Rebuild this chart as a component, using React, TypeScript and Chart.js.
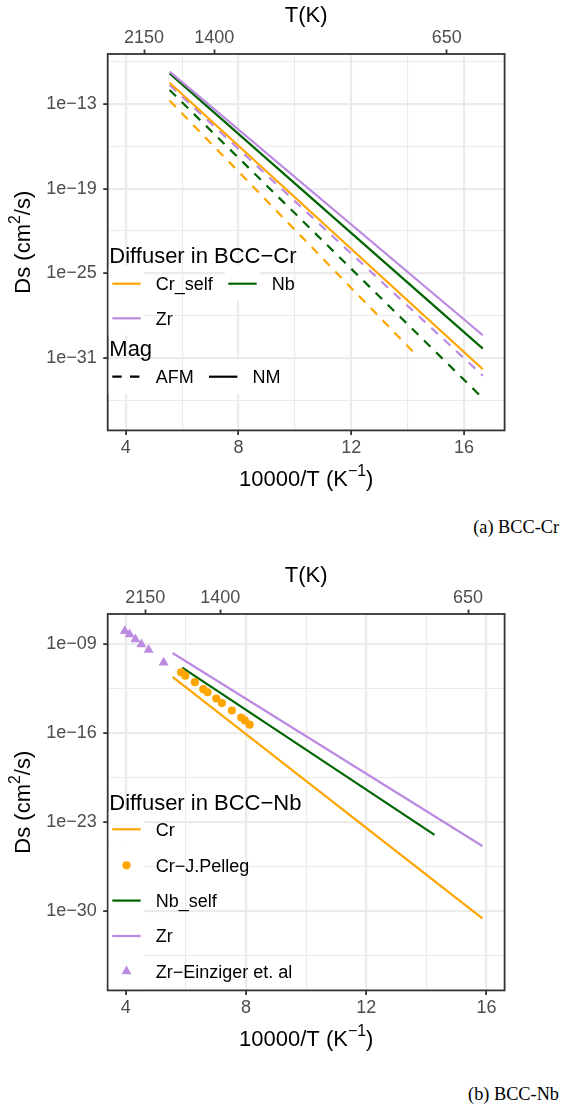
import React, { useEffect, useRef } from 'react';
import { Chart, registerables } from 'chart.js';

Chart.register(...registerables);

const FONT = "'Liberation Sans', Arial, Helvetica, sans-serif";
const SERIF = "'Liberation Serif', 'Times New Roman', serif";
const ORANGE = '#FFA500';
const GREEN = '#006400';
const PURPLE = '#BC8AE0';
const DASH = [9, 8];

// ---------- (a) BCC-Cr : x = 10000/T, y = Ds (cm^2/s)
const aInvT = [5.556, 16.667];
const aInvTShort = [5.556, 14.286];
const aCrSelfNM = [3.2e-12, 1.58e-32];
const aNbNM = [1.48e-11, 4.6e-31];
const aZrNM = [1.95e-11, 4.1e-30];
const aCrSelfAFM = [1.74e-13, 1.8e-31];
const aNbAFM = [9.8e-13, 1.4e-34];
const aZrAFM = [2.24e-12, 5.6e-33];

// ---------- (b) BCC-Nb
const bCrInvT = [5.556, 15.86];
const bCr = [2.57e-12, 2.4e-31];
const bNbSelfInvT = [5.88, 14.27];
const bNbSelf = [1.38e-11, 9.1e-25];
const bZrInvT = [5.556, 15.86];
const bZr = [1.95e-10, 1.23e-25];
const pellegInvT = [5.84, 5.98, 6.3, 6.58, 6.72, 7.01, 7.2, 7.53, 7.84, 7.96, 8.12];
const pellegD = [5.9e-12, 3.2e-12, 9.8e-13, 2.75e-13, 1.58e-13, 5.1e-14, 2.2e-14, 5.75e-15, 1.62e-15, 9.5e-16, 4.4e-16];
const einzigerInvT = [3.97, 4.13, 4.32, 4.52, 4.76, 5.26];
const einzigerD = [1.05e-8, 5.75e-9, 2.34e-9, 9.3e-10, 3.4e-10, 3.4e-11];

// ---------- ticks
const xMajorTicks = [4, 8, 12, 16];
const xMinorTicks = [6, 10, 14];
const topTickTemps = [2150, 1400, 650];
const aYMajor = [1e-31, 1e-25, 1e-19, 1e-13];
const aYMinor = [1e-34, 1e-28, 1e-22, 1e-16, 1e-10];
const bYMajor = [1e-30, 1e-23, 1e-16, 1e-9];
const bYMinor = [3.1623e-34, 3.1623e-27, 3.1623e-20, 3.1623e-13];

const W = 562;
const H = 500;
const AREA = { left: 107.7, right: 504.6, top: 54, bottom: 430.4 };

const TICK_SIZE = 18;
const TITLE_SIZE = 22;
const TRI_R = 5.8;
const DOT_R = 4.1;

function logNear(arr: number[], v: number) {
  return arr.some((a) => Math.abs(Math.log10(a) - Math.log10(v)) < 1e-3);
}
function yLabel(v: number) {
  const e = Math.round(Math.log10(v));
  return '1e' + (e < 0 ? '\u2212' : '+') + String(Math.abs(e)).padStart(2, '0');
}

function lineDs(xs: number[], ys: number[], color: string, dash: number[]) {
  return {
    type: 'line',
    data: xs.map((x, i) => ({ x, y: ys[i] })),
    borderColor: color,
    backgroundColor: color,
    borderWidth: 2.2,
    borderDash: dash,
    borderCapStyle: 'butt',
    pointRadius: 0,
    pointHoverRadius: 0,
    fill: false,
    tension: 0,
  };
}
function pointDs(xs: number[], ys: number[], color: string, style: string, r: number) {
  return {
    type: 'line',
    showLine: false,
    data: xs.map((x, i) => ({ x, y: ys[i] })),
    borderColor: color,
    backgroundColor: color,
    pointStyle: style,
    pointRadius: r,
    pointHoverRadius: r,
    pointBorderWidth: 0,
  };
}

type Seg = { t: string; sup?: boolean };
function drawRich(ctx: CanvasRenderingContext2D, segs: Seg[], cx: number, cy: number, size: number, rot: number) {
  ctx.save();
  ctx.translate(cx, cy);
  ctx.rotate(rot);
  const supSize = size * 0.72;
  const widths = segs.map((s) => {
    ctx.font = `${s.sup ? supSize : size}px ${FONT}`;
    return ctx.measureText(s.t).width;
  });
  const total = widths.reduce((a, b) => a + b, 0);
  let x = -total / 2;
  const base = size * 0.358;
  ctx.fillStyle = '#000';
  ctx.textAlign = 'left';
  ctx.textBaseline = 'alphabetic';
  segs.forEach((s, i) => {
    ctx.font = `${s.sup ? supSize : size}px ${FONT}`;
    ctx.fillText(s.t, x, s.sup ? base - size * 0.45 : base);
    x += widths[i];
  });
  ctx.restore();
}

type LegendItem = { kind: 'line' | 'circle' | 'triangle'; color: string; dash?: number[]; x: number; y: number; label: string };
type LegendSpec = { titles: { text: string; x: number; y: number }[]; items: LegendItem[]; keyH: number };

function drawLegend(ctx: CanvasRenderingContext2D, lg: LegendSpec) {
  ctx.save();
  ctx.fillStyle = '#ffffff';
  lg.items.forEach((it) => ctx.fillRect(it.x - 17.75, it.y - lg.keyH / 2, 35.5, lg.keyH));
  lg.items.forEach((it) => {
    if (it.kind === 'line') {
      ctx.strokeStyle = it.color;
      ctx.lineWidth = 2.2;
      ctx.lineCap = 'butt';
      ctx.setLineDash(it.dash || []);
      ctx.beginPath();
      ctx.moveTo(it.x - 14.2, it.y);
      ctx.lineTo(it.x + 14.2, it.y);
      ctx.stroke();
      ctx.setLineDash([]);
    } else if (it.kind === 'circle') {
      ctx.fillStyle = it.color;
      ctx.beginPath();
      ctx.arc(it.x, it.y, DOT_R, 0, Math.PI * 2);
      ctx.fill();
    } else {
      const r = TRI_R;
      ctx.fillStyle = it.color;
      ctx.beginPath();
      for (let k = 0; k < 3; k++) {
        const a = (k * 2 * Math.PI) / 3;
        const px = it.x + Math.sin(a) * r;
        const py = it.y - Math.cos(a) * r;
        if (k === 0) ctx.moveTo(px, py);
        else ctx.lineTo(px, py);
      }
      ctx.closePath();
      ctx.fill();
    }
    ctx.fillStyle = '#000';
    ctx.font = `${TICK_SIZE}px ${FONT}`;
    ctx.textAlign = 'left';
    ctx.textBaseline = 'alphabetic';
    ctx.fillText(it.label, it.x + 29.2, it.y + TICK_SIZE * 0.358);
  });
  lg.titles.forEach((t) => {
    ctx.fillStyle = '#000';
    ctx.font = `${TITLE_SIZE}px ${FONT}`;
    ctx.textAlign = 'left';
    ctx.textBaseline = 'alphabetic';
    ctx.fillText(t.text, t.x, t.y + TITLE_SIZE * 0.358);
  });
  ctx.restore();
}

function decorPlugin(lg: LegendSpec) {
  return {
    id: 'decor',
    afterDraw(chart: any) {
      const ctx: CanvasRenderingContext2D = chart.ctx;
      const a = chart.chartArea;
      ctx.save();
      ctx.strokeStyle = '#333333';
      ctx.lineWidth = 1.8;
      ctx.strokeRect(a.left, a.top, a.right - a.left, a.bottom - a.top);
      ctx.restore();
      drawLegend(ctx, lg);
      const cx = (a.left + a.right) / 2;
      drawRich(ctx, [{ t: 'T(K)' }], cx, 13.7, TITLE_SIZE, 0);
      drawRich(ctx, [{ t: '10000/T (K' }, { t: '\u22121', sup: true }, { t: ')' }], cx, 478.3, TITLE_SIZE, 0);
      drawRich(ctx, [{ t: 'Ds (cm' }, { t: '2', sup: true }, { t: '/s)' }], 22, (a.top + a.bottom) / 2, TITLE_SIZE, -Math.PI / 2);
    },
  };
}

function makeConfig(spec: {
  datasets: any[];
  xMin: number;
  xMax: number;
  yMin: number;
  yMax: number;
  yMajor: number[];
  yMinor: number[];
  legend: LegendSpec;
}): any {
  const tickFont = { family: FONT, size: TICK_SIZE };
  const xAll = [...xMajorTicks, ...xMinorTicks].sort((p, q) => p - q);
  const yAll = [...spec.yMajor, ...spec.yMinor].sort((p, q) => p - q);
  return {
    type: 'line',
    data: { datasets: spec.datasets },
    options: {
      responsive: false,
      maintainAspectRatio: false,
      animation: false,
      events: [],
      layout: { padding: { left: 0, top: 0, right: W - AREA.right, bottom: 0 } },
      plugins: { legend: { display: false }, tooltip: { enabled: false }, title: { display: false } },
      scales: {
        x: {
          type: 'linear',
          position: 'bottom',
          min: spec.xMin,
          max: spec.xMax,
          bounds: 'data',
          afterBuildTicks: (s: any) => {
            s.ticks = xAll.map((v) => ({ value: v }));
          },
          afterFit: (s: any) => {
            s.height = H - AREA.bottom;
          },
          ticks: {
            autoSkip: false,
            maxRotation: 0,
            color: '#4d4d4d',
            font: tickFont,
            padding: 2.6,
            callback: (v: number) => (xMajorTicks.includes(v) ? String(v) : ''),
          },
          grid: {
            color: '#ebebeb',
            lineWidth: (c: any) => (c.tick && xMajorTicks.includes(c.tick.value) ? 2.2 : 1.1),
            tickLength: 4.5,
            tickWidth: 1.8,
            tickColor: (c: any) => (c.tick && xMajorTicks.includes(c.tick.value) ? '#333333' : 'rgba(0,0,0,0)'),
          },
          border: { display: false },
          title: { display: false },
        },
        xTop: {
          type: 'linear',
          position: 'top',
          min: spec.xMin,
          max: spec.xMax,
          bounds: 'data',
          afterBuildTicks: (s: any) => {
            s.ticks = topTickTemps.map((t) => ({ value: 10000 / t }));
          },
          afterFit: (s: any) => {
            s.height = AREA.top;
          },
          ticks: {
            autoSkip: false,
            maxRotation: 0,
            color: '#4d4d4d',
            font: tickFont,
            padding: 0.4,
            callback: (_v: number, i: number) => String(topTickTemps[i]),
          },
          grid: {
            drawOnChartArea: false,
            color: '#333333',
            tickLength: 4.5,
            tickWidth: 1.8,
            tickColor: '#333333',
          },
          border: { display: false },
          title: { display: false },
        },
        y: {
          type: 'logarithmic',
          position: 'left',
          min: spec.yMin,
          max: spec.yMax,
          bounds: 'data',
          afterBuildTicks: (s: any) => {
            s.ticks = yAll.map((v) => ({ value: v }));
          },
          afterFit: (s: any) => {
            s.width = AREA.left;
          },
          ticks: {
            autoSkip: false,
            color: '#4d4d4d',
            font: tickFont,
            padding: 6.4,
            callback: (v: number) => (logNear(spec.yMajor, v) ? yLabel(v) : ''),
          },
          grid: {
            color: '#ebebeb',
            lineWidth: (c: any) => (c.tick && logNear(spec.yMajor, c.tick.value) ? 2.2 : 1.1),
            tickLength: 4.5,
            tickWidth: 1.8,
            tickColor: (c: any) => (c.tick && logNear(spec.yMajor, c.tick.value) ? '#333333' : 'rgba(0,0,0,0)'),
          },
          border: { display: false },
          title: { display: false },
        },
      },
    },
    plugins: [decorPlugin(spec.legend)],
  };
}

const legendA: LegendSpec = {
  keyH: 34.6,
  titles: [
    { text: 'Diffuser in BCC\u2212Cr', x: 109.3, y: 255 },
    { text: 'Mag', x: 109.3, y: 348.3 },
  ],
  items: [
    { kind: 'line', color: ORANGE, x: 126.5, y: 283.7, label: 'Cr_self' },
    { kind: 'line', color: GREEN, x: 242.5, y: 283.7, label: 'Nb' },
    { kind: 'line', color: PURPLE, x: 126.5, y: 318.3, label: 'Zr' },
    { kind: 'line', color: '#000000', dash: [9.4, 8.3], x: 126.5, y: 376.7, label: 'AFM' },
    { kind: 'line', color: '#000000', x: 223.2, y: 376.7, label: 'NM' },
  ],
};

const legendB: LegendSpec = {
  keyH: 35.5,
  titles: [{ text: 'Diffuser in BCC\u2212Nb', x: 109.3, y: 242 }],
  items: [
    { kind: 'line', color: ORANGE, x: 126.5, y: 269.3, label: 'Cr' },
    { kind: 'circle', color: ORANGE, x: 126.5, y: 305.3, label: 'Cr\u2212J.Pelleg' },
    { kind: 'line', color: GREEN, x: 126.5, y: 340.6, label: 'Nb_self' },
    { kind: 'line', color: PURPLE, x: 126.5, y: 376, label: 'Zr' },
    { kind: 'triangle', color: PURPLE, x: 126.5, y: 411.3, label: 'Zr\u2212Einziger et. al' },
  ],
};

function configA() {
  return makeConfig({
    datasets: [
      lineDs(aInvT, aZrNM, PURPLE, []),
      lineDs(aInvT, aNbNM, GREEN, []),
      lineDs(aInvT, aCrSelfNM, ORANGE, []),
      lineDs(aInvT, aZrAFM, PURPLE, DASH),
      lineDs(aInvT, aNbAFM, GREEN, DASH),
      lineDs(aInvTShort, aCrSelfAFM, ORANGE, DASH),
    ],
    xMin: 3.36,
    xMax: 17.44,
    yMin: 7.4e-37,
    yMax: 3.5e-10,
    yMajor: aYMajor,
    yMinor: aYMinor,
    legend: legendA,
  });
}

function configB() {
  return makeConfig({
    datasets: [
      pointDs(einzigerInvT, einzigerD, PURPLE, 'triangle', TRI_R),
      pointDs(pellegInvT, pellegD, ORANGE, 'circle', DOT_R),
      lineDs(bZrInvT, bZr, PURPLE, []),
      lineDs(bNbSelfInvT, bNbSelf, GREEN, []),
      lineDs(bCrInvT, bCr, ORANGE, []),
    ],
    xMin: 3.4,
    xMax: 16.6,
    yMin: 5.2e-37,
    yMax: 2.3e-7,
    yMajor: bYMajor,
    yMinor: bYMinor,
    legend: legendB,
  });
}

function ChartCanvas({ make, top }: { make: () => any; top: number }) {
  const ref = useRef<HTMLCanvasElement>(null);
  useEffect(() => {
    if (!ref.current) return;
    const chart = new Chart(ref.current, make());
    return () => chart.destroy();
  }, []);
  return (
    <canvas
      ref={ref}
      width={W}
      height={H}
      style={{ position: 'absolute', left: 0, top, width: W, height: H, display: 'block' }}
    />
  );
}

const captionStyle = (top: number): React.CSSProperties => ({
  position: 'absolute',
  right: 3,
  top,
  fontFamily: SERIF,
  fontSize: 18.3,
  lineHeight: '20px',
  color: '#000',
  whiteSpace: 'nowrap',
});

export default function App() {
  return (
    <div style={{ position: 'absolute', left: 0, top: 0, width: W, height: 1108, background: '#fff', overflow: 'hidden' }}>
      <ChartCanvas make={configA} top={0} />
      <div style={captionStyle(517)}>(a) BCC-Cr</div>
      <ChartCanvas make={configB} top={560} />
      <div style={captionStyle(1084)}>(b) BCC-Nb</div>
    </div>
  );
}
